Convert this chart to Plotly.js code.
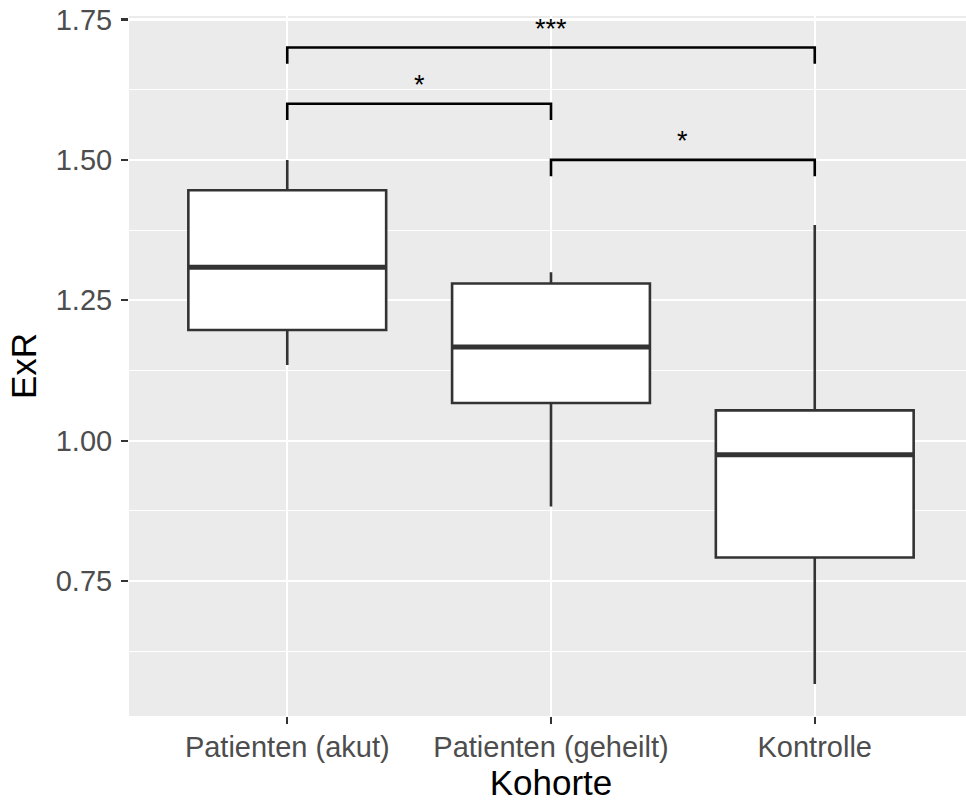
<!DOCTYPE html>
<html>
<head>
<meta charset="utf-8">
<script src="https://cdn.plot.ly/plotly-3.0.1.min.js"></script>
<style>
html, body { margin: 0; padding: 0; overflow: hidden; background: #fff; }
#chart { width: 973px; height: 802px; }
</style>
</head>
<body>
<div id="chart"></div>
<script>
// Categories and box statistics
const categories = ["Patienten (akut)", "Patienten (geheilt)", "Kontrolle"];
const catPos = [1, 2, 3];
const lowerWhisker = [1.135, 0.883, 0.567];
const q1Values     = [1.197, 1.067, 0.792];
const medianValues = [1.309, 1.167, 0.975];
const q3Values     = [1.446, 1.280, 1.054];
const upperWhisker = [1.500, 1.300, 1.384];

// Significance brackets
const bracketLeft  = [1, 1, 2];
const bracketRight = [3, 2, 3];
const bracketY     = [1.70, 1.60, 1.50];
const bracketLabel = ["***", "*", "*"];
const tipLength = 0.029;
const boxWidth = 0.75;

const yTickVals = [0.75, 1.00, 1.25, 1.50, 1.75];
const yTickText = ["0.75", "1.00", "1.25", "1.50", "1.75"];

const FONT = "Liberation Sans, Arial, Helvetica, sans-serif";

const traces = [];

traces.push({
  type: "box",
  x: catPos,
  q1: q1Values,
  median: medianValues,
  q3: q3Values,
  lowerfence: lowerWhisker,
  upperfence: upperWhisker,
  boxpoints: false,
  width: boxWidth,
  whiskerwidth: 0,
  fillcolor: "#FFFFFF",
  line: { color: "#333333", width: 2.6 },
  hoverinfo: "skip",
  showlegend: false
});

// thicker median line (ggplot fatten)
const mx = [], my = [];
for (let i = 0; i < catPos.length; i++) {
  mx.push(catPos[i] - boxWidth / 2, catPos[i] + boxWidth / 2, null);
  my.push(medianValues[i], medianValues[i], null);
}
traces.push({
  type: "scatter", mode: "lines", x: mx, y: my,
  line: { color: "#333333", width: 5 },
  hoverinfo: "skip", showlegend: false
});

// brackets
const annotations = [];
for (let i = 0; i < bracketY.length; i++) {
  traces.push({
    type: "scatter", mode: "lines",
    x: [bracketLeft[i], bracketLeft[i], bracketRight[i], bracketRight[i]],
    y: [bracketY[i] - tipLength, bracketY[i], bracketY[i], bracketY[i] - tipLength],
    line: { color: "#000000", width: 2.6 },
    hoverinfo: "skip", showlegend: false
  });
  annotations.push({
    x: (bracketLeft[i] + bracketRight[i]) / 2,
    y: bracketY[i],
    xref: "x", yref: "y",
    text: bracketLabel[i],
    showarrow: false,
    yanchor: "bottom",
    yshift: 2,
    font: { family: FONT, size: 27, color: "#000000" }
  });
}

const layout = {
  width: 973, height: 802,
  margin: { l: 129, r: 0, t: 16, b: 86, pad: 0 },
  paper_bgcolor: "#FFFFFF",
  plot_bgcolor: "#EBEBEB",
  showlegend: false,
  xaxis: {
    range: [0.4, 3.6],
    tickmode: "array",
    tickvals: catPos,
    ticktext: categories,
    showgrid: true, gridcolor: "#FFFFFF", gridwidth: 2.2,
    zeroline: false, showline: false,
    ticks: "outside", ticklen: 7, tickwidth: 2.2, tickcolor: "#333333",
    ticklabelstandoff: -2,
    tickfont: { family: FONT, size: 29, color: "#4D4D4D" },
    title: { text: "Kohorte", font: { family: FONT, size: 35, color: "#000000" }, standoff: 9 },
    automargin: false
  },
  yaxis: {
    range: [0.5098, 1.7562],
    tickmode: "array",
    tickvals: yTickVals,
    ticktext: yTickText,
    showgrid: true, gridcolor: "#FFFFFF", gridwidth: 2.2,
    minor: { tickmode: "linear", tick0: 0.625, dtick: 0.25, showgrid: true, gridcolor: "#FFFFFF", gridwidth: 1.1, ticks: "" },
    zeroline: false, showline: false,
    ticks: "outside", ticklen: 7, tickwidth: 2.2, tickcolor: "#333333",
    ticklabelstandoff: 3,
    tickfont: { family: FONT, size: 29, color: "#4D4D4D" },
    title: { text: "ExR", font: { family: FONT, size: 35, color: "#000000" }, standoff: 8 },
    automargin: false
  },
  annotations: annotations
};

Plotly.newPlot("chart", traces, layout, { staticPlot: true, displayModeBar: false });
</script>
</body>
</html>
